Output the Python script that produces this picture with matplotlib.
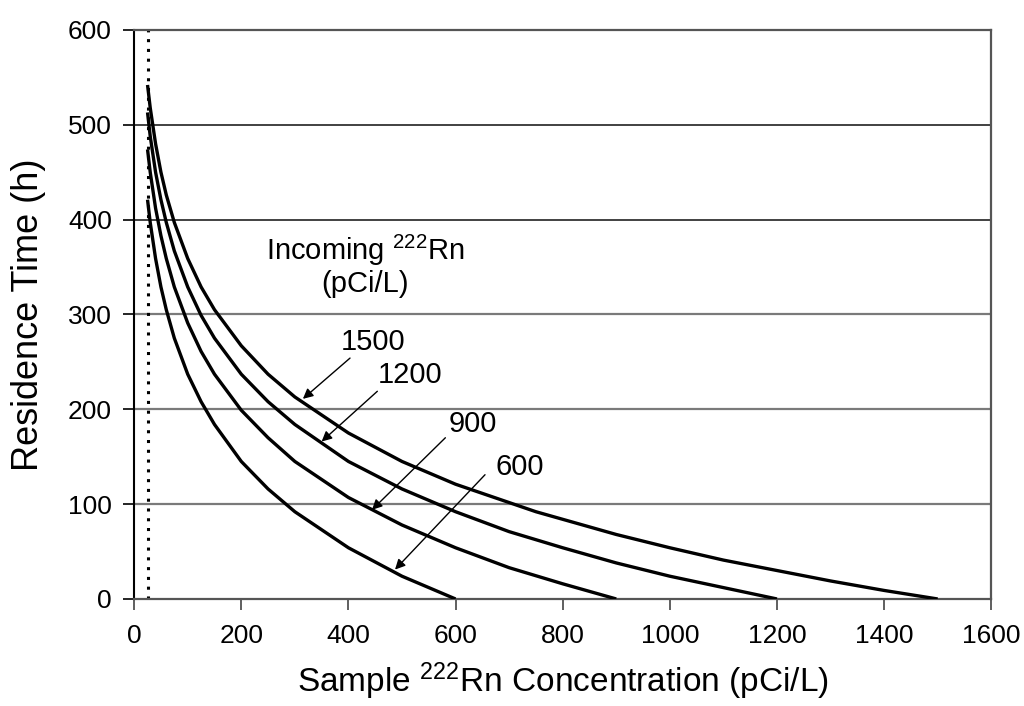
import numpy as np
import matplotlib
matplotlib.use('Agg')
import matplotlib.pyplot as plt

plt.rc('font', family='Liberation Sans', size=13)
plt.rcParams['mathtext.fontset'] = 'custom'
plt.rcParams['mathtext.rm'] = 'Liberation Sans'
plt.rcParams['mathtext.it'] = 'Liberation Sans:italic'

# curves: sample concentration (pCi/L) vs residence time (h)
conc_1500 = [25, 30, 40, 50, 60, 75, 100, 125, 150, 200, 250, 300, 400, 500, 600, 750, 900, 1000, 1100, 1200, 1300, 1400, 1500]
time_1500 = [542, 518, 480, 450, 426, 397, 359, 329, 305, 267, 237, 213, 175, 145, 121, 92, 68, 54, 41, 30, 19, 9, 0]

conc_1200 = [25, 30, 40, 50, 60, 75, 100, 125, 150, 200, 250, 300, 400, 500, 600, 700, 800, 900, 1000, 1100, 1200]
time_1200 = [513, 488, 450, 421, 397, 367, 329, 299, 275, 237, 208, 184, 145, 116, 92, 71, 54, 38, 24, 12, 0]

conc_900 = [25, 30, 40, 50, 60, 75, 100, 125, 150, 200, 250, 300, 400, 500, 600, 700, 800, 900]
time_900 = [474, 450, 412, 383, 359, 329, 291, 261, 237, 199, 170, 145, 107, 78, 54, 33, 16, 0]

conc_600 = [25, 30, 40, 50, 60, 75, 100, 125, 150, 200, 250, 300, 400, 500, 550, 600]
time_600 = [421, 397, 359, 329, 305, 275, 237, 208, 184, 145, 116, 92, 54, 24, 12, 0]

detect_limit = 25

labels = ['1500', '1200', '900', '600']
label_xy = [(446, 271), (515, 236), (633, 184), (720, 139)]
arrow_tail = [(403, 254), (454, 219), (581, 170), (655, 131)]
arrow_head = [(315, 211), (350, 166), (444, 94), (487, 31)]

fig = plt.figure(figsize=(10.24, 7.06), dpi=100)
ax = fig.add_axes([0.131, 0.1516, 0.837, 0.806])

for y in [100, 200, 300]:
    ax.axhline(y, color='#7a7a7a', lw=1.6, zorder=1)
for y in [400, 500]:
    ax.axhline(y, color='#333333', lw=1.3, zorder=1)

ax.plot([detect_limit, detect_limit], [0, 600], color='black', lw=2.2,
        linestyle=(0, (1, 2.2)), zorder=2)

for c, t in [(conc_1500, time_1500), (conc_1200, time_1200),
             (conc_900, time_900), (conc_600, time_600)]:
    ax.plot(c, t, color='black', lw=2.4, solid_capstyle='butt', zorder=3)

for lab, lxy, tail, head in zip(labels, label_xy, arrow_tail, arrow_head):
    ax.text(lxy[0], lxy[1], lab, ha='center', va='center', fontsize=21)
    ax.annotate('', xy=head, xytext=tail,
                arrowprops=dict(arrowstyle='-|>', color='black', lw=1.0,
                                mutation_scale=15, shrinkA=0, shrinkB=0))

ax.text(431, 352, 'Incoming $^{222}$Rn\n(pCi/L)', ha='center', va='center',
        multialignment='center', fontsize=21, linespacing=1.1)

ax.set_xlim(0, 1600)
ax.set_ylim(0, 600)
ax.set_xticks(np.arange(0, 1601, 200))
ax.set_yticks(np.arange(0, 601, 100))
ax.tick_params(axis='both', direction='out', length=8, width=1.2, labelsize=19)
ax.tick_params(axis='x', pad=10, colors='#444444', labelcolor='black')
ax.tick_params(axis='y', pad=8)

ax.spines['left'].set_color('black')
ax.spines['left'].set_linewidth(1.5)
for s in ['right', 'top', 'bottom']:
    ax.spines[s].set_color('#555555')
    ax.spines[s].set_linewidth(1.6)

ax.set_xlabel('Sample $^{222}$Rn Concentration (pCi/L)', fontsize=24, labelpad=9)
ax.set_ylabel('Residence Time (h)', fontsize=26, labelpad=16)

plt.savefig('out.png', dpi=100)
